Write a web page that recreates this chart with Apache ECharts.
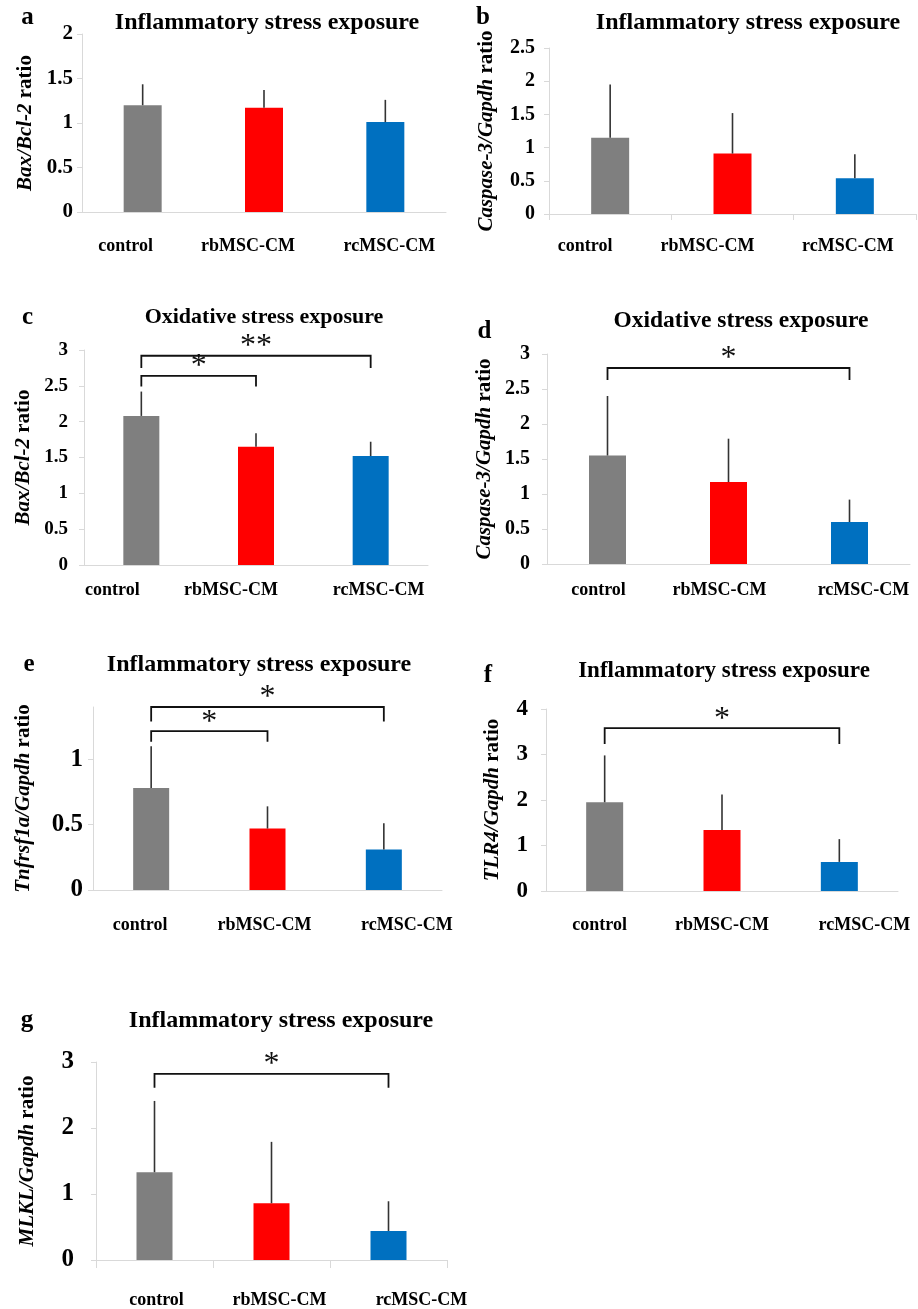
<!DOCTYPE html>
<html>
<head>
<meta charset="utf-8">
<script src="https://cdn.jsdelivr.net/npm/echarts@6/dist/echarts.min.js"></script>
<style>
html,body{margin:0;padding:0;background:#fff;}
#chart{width:918px;height:1309px;}
</style>
</head>
<body>
<div id="chart"></div>
<script>
// ---------- DATA ----------
const categories = ['control', 'rbMSC-CM', 'rcMSC-CM'];
const panelLetters = ['a', 'b', 'c', 'd', 'e', 'f', 'g'];
const panelTitles = [
  'Inflammatory stress exposure', 'Inflammatory stress exposure',
  'Oxidative stress exposure', 'Oxidative stress exposure',
  'Inflammatory stress exposure', 'Inflammatory stress exposure',
  'Inflammatory stress exposure'
];
const yNameItalic = ['Bax/Bcl-2', 'Caspase-3/Gapdh', 'Bax/Bcl-2', 'Caspase-3/Gapdh', 'Tnfrsf1a/Gapdh', 'TLR4/Gapdh', 'MLKL/Gapdh'];
const yNameSuffix = 'ratio';

const meanA = [1.20, 1.17, 1.01];  const sdA = [0.235, 0.20, 0.25];
const meanB = [1.15, 0.91, 0.54];  const sdB = [0.80, 0.61, 0.36];
const meanC = [2.08, 1.65, 1.52];  const sdC = [0.34, 0.19, 0.20];
const meanD = [1.55, 1.17, 0.60];  const sdD = [0.85, 0.62, 0.32];
const meanE = [0.78, 0.47, 0.31];  const sdE = [0.32, 0.17, 0.20];
const meanF = [1.95, 1.34, 0.64];  const sdF = [1.03, 0.78, 0.50];
const meanG = [1.33, 0.86, 0.44];  const sdG = [1.08, 0.93, 0.45];

const yMax = [2, 2.5, 3, 3, 1.4, 4, 3];
const yInterval = [0.5, 0.5, 0.5, 0.5, 0.5, 1, 1];

// significance brackets: [fromCategory, toCategory, barValue, legValue, mark]
const bracketsA = [];
const bracketsB = [];
const bracketsC = [[0, 2, 2.92, 2.75, '**'], [0, 1, 2.64, 2.49, '*']];
const bracketsD = [[0, 2, 2.80, 2.63, '*']];
const bracketsE = [[0, 2, 1.40, 1.29, '*'], [0, 1, 1.215, 1.134, '*']];
const bracketsF = [[0, 2, 3.58, 3.23, '*']];
const bracketsG = [[0, 2, 2.82, 2.61, '*']];

const means = [meanA, meanB, meanC, meanD, meanE, meanF, meanG];
const sds = [sdA, sdB, sdC, sdD, sdE, sdF, sdG];
const brackets = [bracketsA, bracketsB, bracketsC, bracketsD, bracketsE, bracketsF, bracketsG];

// ---------- STYLE / LAYOUT ----------
const barColors = ['#7f7f7f', '#ff0000', '#0070c0'];
const FONT = '"Liberation Serif", "Times New Roman", serif';
const layout = [
  {left:82,  top:34,   width:364, height:178, barWidth:38, tickFont:21, labelMargin:9,  nameGap:46, catMargin:25, catShift:[-17,-16,4],  titleX:267, titleY:23,   titleFont:24,   letterX:27.5,  letterY:18,   xTicks:false, xTickLen:0},
  {left:549, top:48,   width:367, height:166, barWidth:38, tickFont:20, labelMargin:14, nameGap:52, catMargin:23, catShift:[-25,-25,-7], titleX:748, titleY:23,   titleFont:24,   letterX:483,   letterY:18,   xTicks:true,  xTickLen:6},
  {left:84,  top:350,  width:344, height:215, barWidth:36, tickFont:19, labelMargin:16, nameGap:50, catMargin:16, catShift:[-29,-25,8],  titleX:264, titleY:317,  titleFont:22,   letterX:27.5,  letterY:317.5,xTicks:false, xTickLen:0},
  {left:547, top:354,  width:363, height:210, barWidth:37, tickFont:20, labelMargin:17, nameGap:52, catMargin:17, catShift:[-9,-9,14],   titleX:741, titleY:321,  titleFont:23.5, letterX:484.5, letterY:332,  xTicks:false, xTickLen:0},
  {left:93,  top:707,  width:349, height:183, barWidth:36, tickFont:25, labelMargin:10, nameGap:59, catMargin:26, catShift:[-11,-3,23],  titleX:259, titleY:665,  titleFont:24,   letterX:29,    letterY:665,  xTicks:false, xTickLen:0},
  {left:546, top:709,  width:352, height:182, barWidth:37, tickFont:23, labelMargin:18, nameGap:43, catMargin:25, catShift:[-5,0,25],    titleX:724, titleY:671,  titleFont:23,   letterX:488,   letterY:676,  xTicks:false, xTickLen:0},
  {left:96,  top:1062, width:351, height:198, barWidth:36, tickFont:25, labelMargin:22, nameGap:58, catMargin:31, catShift:[2,8,33],     titleX:281, titleY:1021, titleFont:24,   letterX:27,    letterY:1021, xTicks:true,  xTickLen:8}
];
const nameFont = 21;
const catFont = 18;

const chart = echarts.init(document.getElementById('chart'), null, {renderer: 'canvas'});

const grids = [], xAxes = [], yAxes = [], series = [], graphics = [];

layout.forEach((L, i) => {
  grids.push({left: L.left, top: L.top, width: L.width, height: L.height, containLabel: false});

  const rich = {};
  L.catShift.forEach((d, k) => {
    rich['s' + k] = {
      fontFamily: FONT, fontWeight: 'bold', fontSize: catFont, color: '#000',
      padding: d >= 0 ? [0, 0, 0, 2 * d] : [0, -2 * d, 0, 0]
    };
  });

  xAxes.push({
    type: 'category', gridIndex: i, data: categories,
    axisLine: {show: true, lineStyle: {color: '#d9d9d9', width: 1}},
    axisTick: {show: L.xTicks, length: L.xTickLen, lineStyle: {color: '#d9d9d9'}},
    axisLabel: {
      interval: 0, margin: L.catMargin,
      formatter: (v, idx) => '{s' + idx + '|' + v + '}',
      rich: rich,
      fontFamily: FONT, fontWeight: 'bold', fontSize: catFont, color: '#000'
    },
    splitLine: {show: false}
  });

  yAxes.push({
    type: 'value', gridIndex: i, min: 0, max: yMax[i], interval: yInterval[i],
    axisLine: {show: true, lineStyle: {color: '#d9d9d9', width: 1}},
    axisTick: {show: true, length: 5, lineStyle: {color: '#d9d9d9'}},
    axisLabel: {
      margin: L.labelMargin, fontFamily: FONT, fontWeight: 'bold', fontSize: L.tickFont, color: '#000',
      showMaxLabel: (yMax[i] / yInterval[i]) % 1 === 0
    },
    splitLine: {show: false},
    name: '{i|' + yNameItalic[i] + '} {n|' + yNameSuffix + '}',
    nameLocation: 'middle',
    nameGap: L.nameGap,
    nameTextStyle: {
      fontFamily: FONT, fontSize: nameFont, fontWeight: 'bold', color: '#000',
      rich: {
        i: {fontFamily: FONT, fontSize: nameFont, fontWeight: 'bold', fontStyle: 'italic', color: '#000'},
        n: {fontFamily: FONT, fontSize: nameFont, fontWeight: 'bold', color: '#000'}
      }
    }
  });

  series.push({
    type: 'bar', xAxisIndex: i, yAxisIndex: i, barWidth: L.barWidth, silent: true,
    data: means[i].map((v, k) => ({value: v, itemStyle: {color: barColors[k]}}))
  });

  series.push({
    type: 'custom', xAxisIndex: i, yAxisIndex: i, clip: false, silent: true, z: 4,
    data: means[i].map((v, k) => [k, v, v + sds[i][k]]),
    encode: {x: 0, y: [1, 2]},
    renderItem: (params, api) => {
      const p0 = api.coord([api.value(0), api.value(1)]);
      const p1 = api.coord([api.value(0), api.value(2)]);
      return {type: 'line', shape: {x1: p0[0], y1: p0[1], x2: p1[0], y2: p1[1]},
              style: {stroke: '#333', lineWidth: 1.6}};
    }
  });

  const br = brackets[i];
  if (br.length) {
    series.push({
      type: 'custom', xAxisIndex: i, yAxisIndex: i, clip: false, silent: true, z: 5,
      data: br.map(b => [b[0], b[2], b[1], b[3]]),
      encode: {x: [0, 2], y: [1, 3]},
      renderItem: (params, api) => {
        const b = br[params.dataIndex];
        const pL = api.coord([b[0], b[3]]);
        const pT = api.coord([b[0], b[2]]);
        const pR = api.coord([b[1], b[2]]);
        const pRL = api.coord([b[1], b[3]]);
        return {
          type: 'group',
          children: [
            {type: 'polyline', shape: {points: [pL, pT, pR, pRL]},
             style: {stroke: '#111', lineWidth: 1.8, fill: 'none'}},
            {type: 'text', x: (pT[0] + pR[0]) / 2, y: pT[1] - 9,
             style: {text: b[4], font: '32px ' + FONT, fill: '#111',
                     align: 'center', verticalAlign: 'middle',
                     textAlign: 'center', textVerticalAlign: 'middle'}}
          ]
        };
      }
    });
  }

  graphics.push({
    type: 'text', x: L.titleX, y: L.titleY, silent: true,
    style: {text: panelTitles[i], font: 'bold ' + L.titleFont + 'px ' + FONT, fill: '#000',
            align: 'center', verticalAlign: 'middle', textAlign: 'center', textVerticalAlign: 'middle'}
  });
  graphics.push({
    type: 'text', x: L.letterX, y: L.letterY, silent: true,
    style: {text: panelLetters[i], font: 'bold 25px ' + FONT, fill: '#000',
            align: 'center', verticalAlign: 'middle', textAlign: 'center', textVerticalAlign: 'middle'}
  });
});

chart.setOption({
  backgroundColor: '#fff',
  animation: false,
  grid: grids,
  xAxis: xAxes,
  yAxis: yAxes,
  series: series,
  graphic: graphics
});
</script>
</body>
</html>
